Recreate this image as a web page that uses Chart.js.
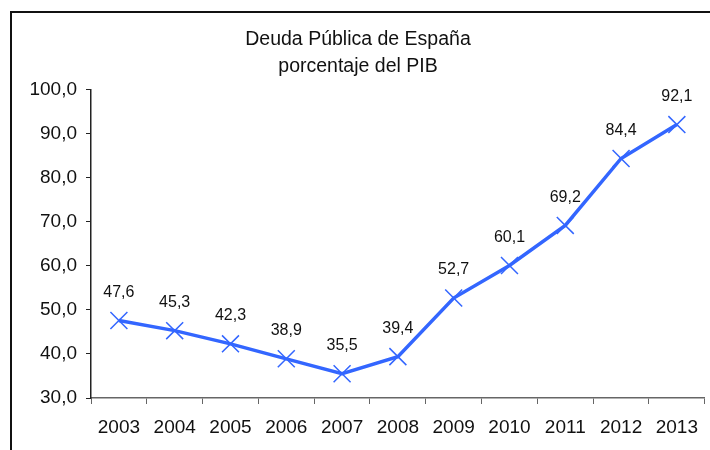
<!DOCTYPE html>
<html>
<head>
<meta charset="utf-8">
<script src="https://cdn.jsdelivr.net/npm/chart.js@4"></script>
<style>
  body { margin: 0; background: #fff; }
  #wrap { width: 710px; height: 450px; }
</style>
</head>
<body>
<div id="wrap"><canvas id="deuda" width="710" height="450"></canvas></div>
<script>
const years = ["2003", "2004", "2005", "2006", "2007", "2008", "2009", "2010", "2011", "2012", "2013"];
const deuda = [47.6, 45.3, 42.3, 38.9, 35.5, 39.4, 52.7, 60.1, 69.2, 84.4, 92.1];
const titleLines = ["Deuda Pública de España", "porcentaje del PIB"];
const yMin = 30, yMax = 100, yStep = 10;

const comma = (v) => Number(v).toFixed(1).replace(".", ",");

// outer frame (top + left edges, the rest is cut off)
const frame = {
  id: "frame",
  beforeDraw(chart) {
    const c = chart.ctx;
    c.save();
    c.strokeStyle = "#111";
    c.lineWidth = 2;
    c.beginPath();
    c.moveTo(11, 450);
    c.lineTo(11, 12);
    c.lineTo(710, 12);
    c.stroke();
    c.restore();
  }
};

// value labels above each point
const valueLabels = {
  id: "valueLabels",
  afterDatasetsDraw(chart) {
    const c = chart.ctx;
    const meta = chart.getDatasetMeta(0);
    c.save();
    c.font = "16px 'Liberation Sans', Arial, sans-serif";
    c.fillStyle = "#111";
    c.textAlign = "center";
    c.textBaseline = "middle";
    meta.data.forEach((pt, i) => {
      c.fillText(comma(deuda[i]), pt.x, pt.y - 28);
    });
    c.restore();
  }
};

new Chart(document.getElementById("deuda"), {
  type: "line",
  data: {
    labels: years,
    datasets: [
      {
        label: "Deuda",
        data: deuda,
        borderColor: "#3366ff",
        backgroundColor: "#3366ff",
        borderWidth: 3.5,
        tension: 0,
        pointStyle: "crossRot",
        pointRadius: 12,
        pointBorderWidth: 1.5,
        pointBorderColor: "#3366ff",
      },
    ],
  },
  options: {
    responsive: false,
    animation: false,
    layout: {
      autoPadding: false,
      padding: { left: 6, right: 0, top: 0, bottom: 0 },
    },
    plugins: {
      legend: { display: false },
      tooltip: { enabled: false },
      title: {
        display: true,
        text: titleLines,
        color: "#111",
        font: { family: "'Liberation Sans', Arial, sans-serif", size: 19.5, weight: "normal", lineHeight: 1.38 },
        padding: { top: 26.5, bottom: 9.5 },
      },
    },
    scales: {
      x: {
        offset: true,
        grid: { offset: true, drawOnChartArea: false, tickLength: 6, color: "#666" },
        border: { color: "#666", width: 1.5 },
        ticks: {
          color: "#111",
          padding: 12,
          maxRotation: 0,
          font: { family: "'Liberation Sans', Arial, sans-serif", size: 19 },
        },
        afterFit(scale) { scale.height = 52; },
      },
      y: {
        min: yMin,
        max: yMax,
        grid: { drawOnChartArea: false, tickLength: 5, color: "#222" },
        border: { color: "#222", width: 1.5 },
        ticks: {
          stepSize: yStep,
          color: "#111",
          padding: 9,
          font: { family: "'Liberation Sans', Arial, sans-serif", size: 19 },
          callback: (v) => comma(v),
        },
        afterFit(scale) { scale.width = 85; },
      },
    },
  },
  plugins: [frame, valueLabels],
});
</script>
</body>
</html>
